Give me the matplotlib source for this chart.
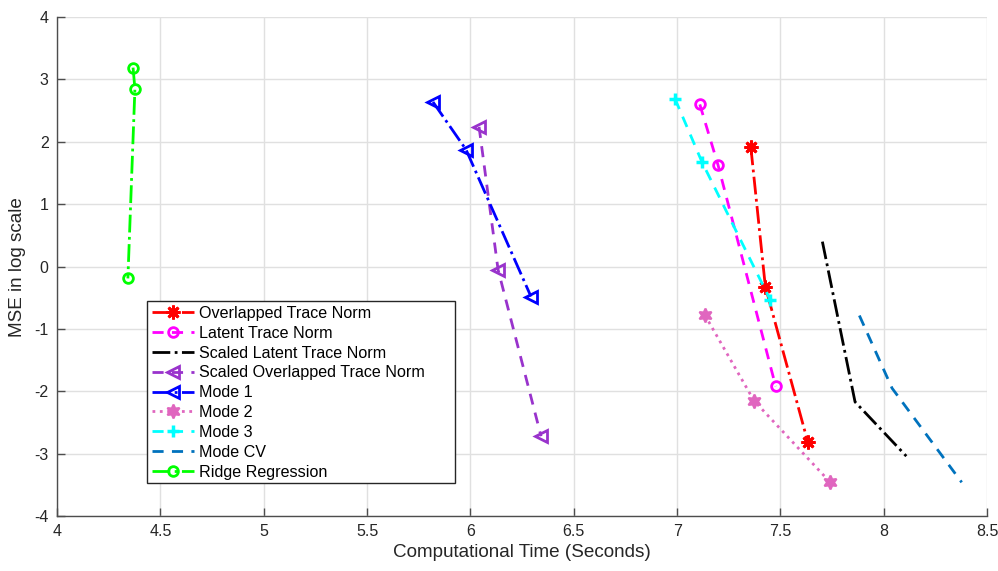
import matplotlib
matplotlib.use("Agg")
import matplotlib.pyplot as plt
from matplotlib.patches import Rectangle

plt.rcParams['font.family'] = ['Liberation Sans', 'DejaVu Sans']
plt.rcParams['axes.unicode_minus'] = False

# Computational time (s) and MSE (log scale) for each method
overlapped_t = [7.357, 7.427, 7.633]
overlapped_mse = [1.91, -0.32, -2.82]

latent_t = [7.11, 7.198, 7.477]
latent_mse = [2.60, 1.63, -1.92]

scaled_latent_t = [7.703, 7.861, 8.109]
scaled_latent_mse = [0.40, -2.17, -3.04]

scaled_overlapped_t = [6.042, 6.134, 6.342]
scaled_overlapped_mse = [2.24, -0.05, -2.72]

mode1_t = [5.819, 5.979, 6.293]
mode1_mse = [2.64, 1.875, -0.48]

mode2_t = [7.135, 7.372, 7.741]
mode2_mse = [-0.78, -2.15, -3.46]

mode3_t = [6.99, 7.12, 7.45]
mode3_mse = [2.69, 1.68, -0.53]

modecv_t = [7.882, 8.04, 8.377]
modecv_mse = [-0.785, -1.95, -3.46]

ridge_t = [4.368, 4.377, 4.343]
ridge_mse = [3.19, 2.85, -0.19]

x_ticks = [4, 4.5, 5, 5.5, 6, 6.5, 7, 7.5, 8, 8.5]
x_tick_labels = ['4', '4.5', '5', '5.5', '6', '6.5', '7', '7.5', '8', '8.5']
y_ticks = [-4, -3, -2, -1, 0, 1, 2, 3, 4]

fig = plt.figure(figsize=(9.98, 5.71), dpi=100)
ax = fig.add_axes([0.0571, 0.0963, 0.932, 0.8737])

lw = 2.0
ms = 7
mew = 2
dashed = (0, (4, 3))
pink = (0.88, 0.4, 0.75)

ax.plot(overlapped_t, overlapped_mse, linestyle='-.', color='red', marker=(8, 2, 0),
        markersize=ms + 3, markeredgewidth=mew, lw=lw, label='Overlapped Trace Norm')
ax.plot(latent_t, latent_mse, linestyle=dashed, color='magenta', marker='o',
        markersize=ms, markeredgewidth=mew, markerfacecolor='none', lw=lw,
        label='Latent Trace Norm')
ax.plot(scaled_latent_t, scaled_latent_mse, linestyle='-.', color='black', lw=lw,
        label='Scaled Latent Trace Norm')
ax.plot(scaled_overlapped_t, scaled_overlapped_mse, linestyle=dashed,
        color=(0.6, 0.2, 0.8), marker='<', markersize=ms + 1, markeredgewidth=mew,
        markerfacecolor='none', lw=lw, label='Scaled Overlapped Trace Norm')
ax.plot(mode1_t, mode1_mse, linestyle='-.', color='blue', marker='<',
        markersize=ms + 1, markeredgewidth=mew, markerfacecolor='none', lw=lw,
        label='Mode 1')
ax.plot(mode2_t, mode2_mse, linestyle=':', color=pink, marker=(6, 1, 0),
        markersize=ms + 3, markeredgewidth=1.5, markerfacecolor=pink, lw=lw,
        label='Mode 2')
ax.plot(mode3_t, mode3_mse, linestyle=dashed, color='cyan', marker='+',
        markersize=ms + 2, markeredgewidth=mew + 0.5, lw=lw, label='Mode 3')
ax.plot(modecv_t, modecv_mse, linestyle=dashed, color=(0.0, 0.447, 0.741),
        lw=lw, label='Mode CV')
ax.plot(ridge_t, ridge_mse, linestyle='-.', color=(0.0, 1.0, 0.0), marker='o',
        markersize=ms, markeredgewidth=mew, markerfacecolor='none', lw=lw,
        label='Ridge Regression')

ax.set_xlim(4, 8.5)
ax.set_ylim(-4, 4)
ax.set_xticks(x_ticks)
ax.set_xticklabels(x_tick_labels)
ax.set_yticks(y_ticks)

ax.grid(True, color=(0.88, 0.88, 0.88), linewidth=1)
ax.set_axisbelow(True)
for side in ('top', 'right'):
    ax.spines[side].set_visible(False)
for side in ('left', 'bottom'):
    ax.spines[side].set_color((0.3, 0.3, 0.3))
    ax.spines[side].set_linewidth(1)
ax.tick_params(direction='in', length=6, width=1, colors=(0.3, 0.3, 0.3),
               labelcolor=(0.15, 0.15, 0.15), labelsize=11.5, pad=6)

ax.set_xlabel('Computational Time (Seconds)', fontsize=13.6, color=(0.15, 0.15, 0.15),
              labelpad=3)
ax.set_ylabel('MSE in log scale', fontsize=13.6, color=(0.15, 0.15, 0.15), labelpad=6)

# Legend box with the wide right margin
box_x0, box_y0, box_w, box_h = 0.0968, 0.0661, 0.331, 0.3647
ax.add_patch(Rectangle((box_x0, box_y0), box_w, box_h, transform=ax.transAxes,
                       facecolor='white', edgecolor=(0.15, 0.15, 0.15), linewidth=1,
                       zorder=4))
leg = ax.legend(loc='upper left', bbox_to_anchor=(box_x0, box_y0 + box_h),
                borderaxespad=0, fontsize=11.6, frameon=False,
                handlelength=2.6, handletextpad=0.3, labelspacing=0.30,
                borderpad=0.3)
leg.set_zorder(5)

fig.savefig('out.png', dpi=100, facecolor='white')
